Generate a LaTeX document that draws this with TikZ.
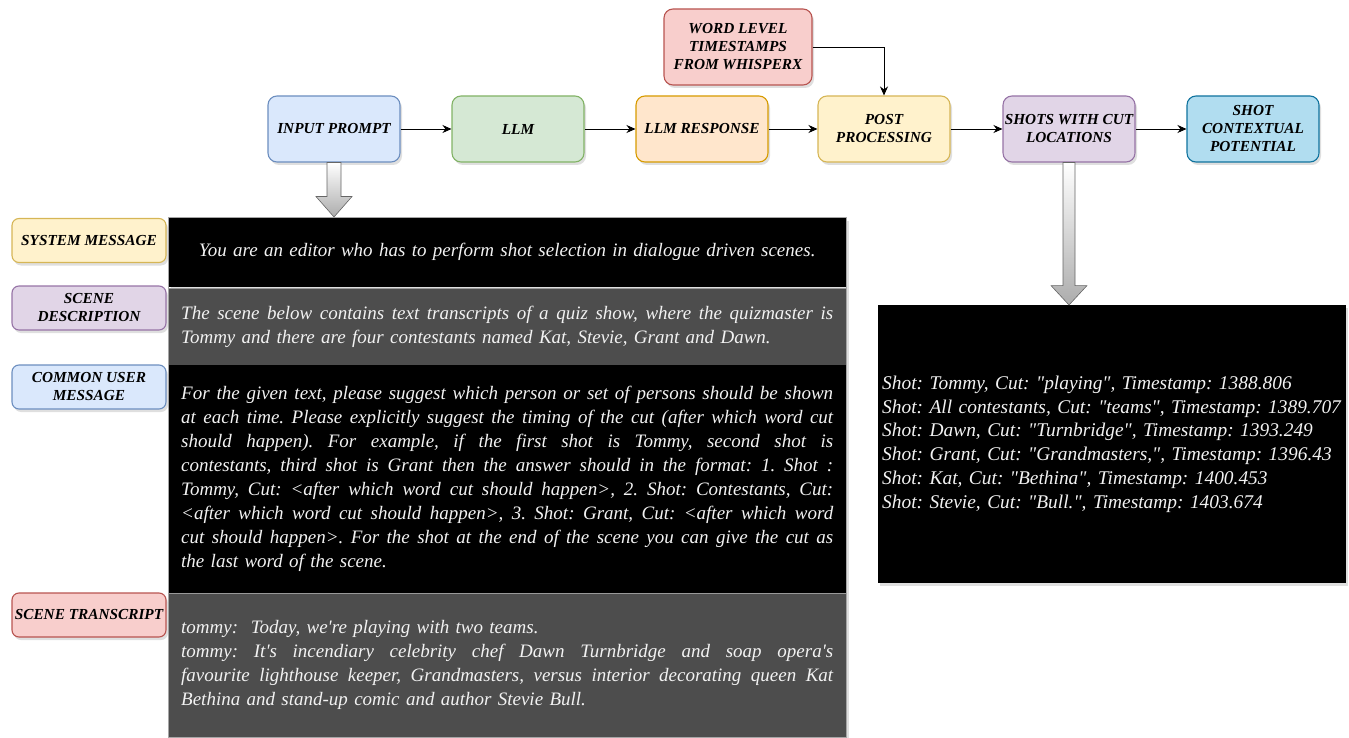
\documentclass[tikz,border=0pt]{standalone}
\usepackage{fontspec}
\newfontfamily\pf{Liberation Serif}
\usetikzlibrary{arrows.meta,shadows,calc}
\definecolor{bluef}{HTML}{DAE8FC}\definecolor{blued}{HTML}{6C8EBF}
\definecolor{greenf}{HTML}{D5E8D4}\definecolor{greend}{HTML}{82B366}
\definecolor{orangef}{HTML}{FFE6CC}\definecolor{oranged}{HTML}{D79B00}
\definecolor{redf}{HTML}{F8CECC}\definecolor{redd}{HTML}{B85450}
\definecolor{yellowf}{HTML}{FFF2CC}\definecolor{yellowd}{HTML}{D6B656}
\definecolor{purplef}{HTML}{E1D5E7}\definecolor{purpled}{HTML}{9673A6}
\definecolor{cyanf}{HTML}{B1DDF0}\definecolor{cyand}{HTML}{10739E}
\definecolor{secgray}{HTML}{4D4D4D}
\definecolor{txt}{HTML}{F2F2F2}
\newcommand\jl[1]{\leavevmode\hbox to 652pt{\spaceskip=0.25em plus 1fil\relax\xspaceskip=\spaceskip #1}}
\begin{document}
\begin{tikzpicture}[x=1pt,y=-1pt,
  box/.style={rounded corners=9pt, line width=1.1pt, align=center,
    font=\pf\bfseries\itshape\fontsize{15.3}{18}\selectfont, inner sep=1pt,
    drop shadow={shadow xshift=2pt,shadow yshift=-3pt,opacity=0.25}},
  topbox/.style={box, minimum width=132pt, minimum height=66pt},
  lab/.style={box, rounded corners=7pt, minimum width=154pt, minimum height=44pt},
  arr/.style={-{Stealth[length=9pt,width=8pt]}, line width=0.9pt},
  sec/.style={anchor=north west, text=txt, inner xsep=13pt, inner ysep=0pt,
    text width=652pt, minimum width=678pt,
    font=\pf\itshape\fontsize{19}{24}\selectfont\frenchspacing},
  blockarr/.style={draw=gray!80!black, line width=0.6pt, top color=white, bottom color=gray!65}
]
\useasboundingbox (0,0) rectangle (1349,738);

% top flow
\node[topbox, fill=bluef, draw=blued] (ip) at (334,129) {INPUT PROMPT};
\node[topbox, fill=greenf, draw=greend] (llm) at (518,129) {LLM};
\node[topbox, fill=orangef, draw=oranged] (resp) at (702,129) {LLM RESPONSE};
\node[box, fill=redf, draw=redd, minimum width=148pt, minimum height=76pt] (wl) at (738,47) {WORD LEVEL\\TIMESTAMPS\\FROM WHISPERX};
\node[topbox, fill=yellowf, draw=yellowd] (pp) at (884,129) {POST\\PROCESSING};
\node[topbox, fill=purplef, draw=purpled] (sc) at (1069,129) {SHOTS WITH CUT\\LOCATIONS};
\node[topbox, fill=cyanf, draw=cyand] (scp) at (1253,129) {SHOT\\CONTEXTUAL\\POTENTIAL};

\draw[arr] (ip) -- (llm);
\draw[arr] (llm) -- (resp);
\draw[arr] (resp) -- (pp);
\draw[arr] (pp) -- (sc);
\draw[arr] (sc) -- (scp);
\draw[arr] (wl.east) -| (pp.north);

% left panel
\fill[gray, opacity=0.25] (171,221) rectangle (849,741);
\node[sec, fill=black, minimum height=70pt, align=center] (sys) at (168,217)
  {You are an editor who has to perform shot selection in dialogue driven scenes.};
\node[sec, fill=secgray, draw=gray!80, minimum height=78pt, align=left] (desc) at (168,288)
  {\jl{The scene below contains text transcripts of a quiz show, where the quizmaster is}\\
   Tommy and there are four contestants named Kat, Stevie, Grant and Dawn.};
\node[sec, fill=black, minimum height=228pt, align=left] (user) at (168,365)
  {\jl{For the given text, please suggest which person or set of persons should be shown}\\
   \jl{at each time. Please explicitly suggest the timing of the cut (after which word cut}\\
   \jl{should happen). For example, if the first shot is Tommy, second shot is}\\
   \jl{contestants, third shot is Grant then the answer should in the format: 1. Shot :}\\
   \jl{Tommy, Cut: <after which word cut should happen>, 2. Shot: Contestants, Cut:}\\
   \jl{<after which word cut should happen>, 3. Shot: Grant, Cut: <after which word}\\
   \jl{cut should happen>. For the shot at the end of the scene you can give the cut as}\\
   the last word of the scene.};
\node[sec, fill=secgray, draw=gray!80, minimum height=144pt, align=left] (tr) at (168,593)
  {tommy:\ \ Today, we're playing with two teams.\\
   \jl{tommy: It's incendiary celebrity chef Dawn Turnbridge and soap opera's}\\
   \jl{favourite lighthouse keeper, Grandmasters, versus interior decorating queen Kat}\\
   Bethina and stand-up comic and author Stevie Bull.};
\draw[gray!70, line width=0.8pt] (168,217) rectangle (846,737);

% left labels
\node[lab, fill=yellowf, draw=yellowd] (lsys) at (89,240.5) {SYSTEM MESSAGE};
\node[lab, fill=purplef, draw=purpled] (ldesc) at (89,308) {SCENE\\DESCRIPTION};
\node[lab, fill=bluef, draw=blued] (luser) at (89,387) {COMMON USER\\MESSAGE};
\node[lab, fill=redf, draw=redd] (ltr) at (89,615) {SCENE TRANSCRIPT};

% right panel
\node[anchor=north west, fill=black, minimum width=468pt, minimum height=278pt,
  text width=460pt, inner xsep=4pt, inner ysep=0pt, align=left, text=txt,
  font=\pf\itshape\fontsize{19.4}{23.8}\selectfont\frenchspacing,
  drop shadow={shadow xshift=2pt,shadow yshift=-3pt,opacity=0.25}] (out) at (878,305)
  {Shot: Tommy, Cut: "playing", Timestamp: 1388.806\\
   Shot: All contestants, Cut: "teams", Timestamp: 1389.707\\
   Shot: Dawn, Cut: "Turnbridge", Timestamp: 1393.249\\
   Shot: Grant, Cut: "Grandmasters,", Timestamp: 1396.43\\
   Shot: Kat, Cut: "Bethina", Timestamp: 1400.453\\
   Shot: Stevie, Cut: "Bull.", Timestamp: 1403.674};

% block arrows
\draw[blockarr] ($(ip.south)+(-7,0)$) -- ($(ip.south)+(7,0)$) -- ($(ip.south)+(7,34)$)
  -- ($(ip.south)+(18,34)$) -- (sys.north -| ip.south) -- ($(ip.south)+(-18,34)$)
  -- ($(ip.south)+(-7,34)$) -- cycle;
\draw[blockarr] ($(sc.south)+(-6,0)$) -- ($(sc.south)+(6,0)$) -- ($(sc.south)+(6,123)$)
  -- ($(sc.south)+(18,123)$) -- (out.north -| sc.south) -- ($(sc.south)+(-18,123)$)
  -- ($(sc.south)+(-6,123)$) -- cycle;
\end{tikzpicture}
\end{document}
